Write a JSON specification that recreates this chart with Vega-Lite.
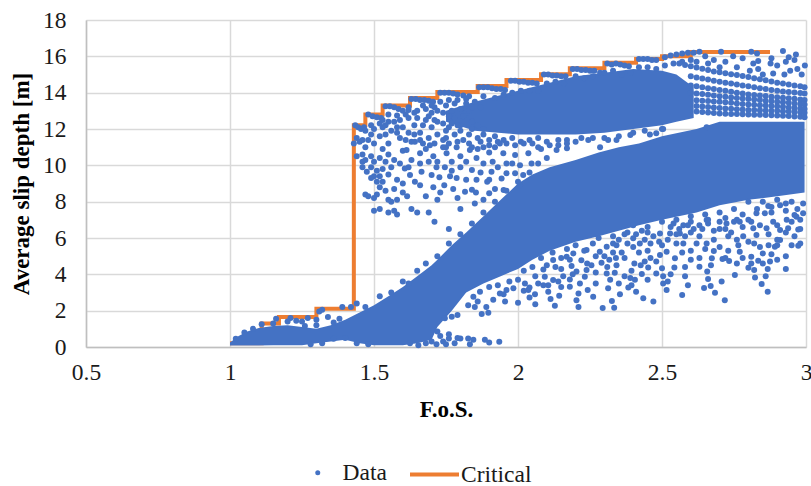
{"$schema":"https://vega.github.io/schema/vega-lite/v6.json","width":720,"height":327,"autosize":"none","padding":{"left":86,"top":20,"right":5,"bottom":139},"background":"white",
"config":{"font":"Liberation Serif","view":{"stroke":null},"axis":{"grid":true,"gridColor":"#D9D9D9","gridWidth":1.5,"domainColor":"#BFBFBF","domainWidth":1.5,"ticks":false,"labelFontSize":23.5,"labelColor":"#1a1a1a","titleFontSize":23,"titleFontWeight":"bold","titleColor":"black","labelOverlap":false,"labelFlush":false},"axisX":{"labelPadding":13,"titlePadding":15},"axisY":{"labelPadding":20,"titlePadding":9}},
"datasets":{
"crit":[{"f":1.0,"d":0.2},{"f":1.11,"d":1.3},{"f":1.17,"d":1.65},{"f":1.3,"d":2.1},{"f":1.43,"d":12.2},{"f":1.47,"d":12.8},{"f":1.53,"d":13.3},{"f":1.625,"d":13.7},{"f":1.72,"d":14.03},{"f":1.86,"d":14.37},{"f":1.96,"d":14.7},{"f":2.08,"d":15.02},{"f":2.18,"d":15.35},{"f":2.3,"d":15.65},{"f":2.41,"d":15.85},{"f":2.5,"d":16},{"f":2.6,"d":16.24},{"f":2.875,"d":16.24}],
"mass":[{"b":"L","f":1.0,"l":0.08,"h":0.25},{"b":"L","f":1.03,"l":0.08,"h":0.6},{"b":"L","f":1.06,"l":0.08,"h":0.85},{"b":"L","f":1.1,"l":0.08,"h":1.05},{"b":"L","f":1.15,"l":0.1,"h":1.15},{"b":"L","f":1.2,"l":0.1,"h":1.2},{"b":"L","f":1.25,"l":0.1,"h":1.1},{"b":"L","f":1.3,"l":0.2,"h":1.0},{"b":"L","f":1.35,"l":0.3,"h":1.2},{"b":"L","f":1.4,"l":0.4,"h":1.5},{"b":"L","f":1.45,"l":0.2,"h":1.9},{"b":"L","f":1.5,"l":0.1,"h":2.3},{"b":"L","f":1.55,"l":0.1,"h":2.8},{"b":"L","f":1.6,"l":0.1,"h":3.3},{"b":"L","f":1.65,"l":0.2,"h":3.9},{"b":"L","f":1.7,"l":0.4,"h":4.5},{"b":"L","f":1.72,"l":1.1,"h":4.8},{"b":"L","f":1.77,"l":2,"h":5.6},{"b":"L","f":1.82,"l":3,"h":6.3},{"b":"L","f":1.88,"l":3.5,"h":7.2},{"b":"L","f":1.94,"l":3.9,"h":8.1},{"b":"L","f":2.0,"l":4.3,"h":9},{"b":"L","f":2.05,"l":4.8,"h":9.5},{"b":"L","f":2.11,"l":5.3,"h":9.9},{"b":"L","f":2.2,"l":5.8,"h":10.3},{"b":"L","f":2.28,"l":6.1,"h":10.7},{"b":"L","f":2.35,"l":6.4,"h":11},{"b":"L","f":2.42,"l":6.7,"h":11.2},{"b":"L","f":2.5,"l":7,"h":11.6},{"b":"L","f":2.62,"l":7.4,"h":12},{"b":"L","f":2.7,"l":7.8,"h":12.4},{"b":"L","f":2.8,"l":8.1,"h":12.4},{"b":"L","f":2.9,"l":8.3,"h":12.4},{"b":"L","f":2.995,"l":8.5,"h":12.4},
{"b":"U","f":1.75,"l":12.4,"h":13},{"b":"U","f":1.85,"l":11.9,"h":13.5},{"b":"U","f":2.0,"l":11.7,"h":14.1},{"b":"U","f":2.1,"l":11.7,"h":14.5},{"b":"U","f":2.2,"l":11.7,"h":14.9},{"b":"U","f":2.3,"l":11.8,"h":15.1},{"b":"U","f":2.4,"l":12,"h":15.3},{"b":"U","f":2.5,"l":12.2,"h":15.2},{"b":"U","f":2.55,"l":12.4,"h":15},{"b":"U","f":2.61,"l":12.6,"h":14.3}],
"pts":[{"f":1.435,"d":12.2},{"f":1.445,"d":12.1},{"f":1.455,"d":12},{"f":1.465,"d":12.1},{"f":1.48,"d":12.8},{"f":1.495,"d":12.7},{"f":1.51,"d":12.65},{"f":1.525,"d":12.6},{"f":1.54,"d":13.25},{"f":1.555,"d":13.25},{"f":1.57,"d":13.2},{"f":1.585,"d":13.1},{"f":1.6,"d":13},{"f":1.63,"d":13.65},{"f":1.645,"d":13.65},{"f":1.66,"d":13.6},{"f":1.675,"d":13.6},{"f":1.69,"d":13.55},{"f":1.705,"d":13.5},{"f":1.73,"d":14},{"f":1.745,"d":14},{"f":1.76,"d":14},{"f":1.775,"d":13.95},{"f":1.79,"d":13.9},{"f":1.81,"d":13.85},{"f":1.83,"d":13.8},{"f":1.865,"d":14.3},{"f":1.88,"d":14.3},{"f":1.895,"d":14.3},{"f":1.91,"d":14.25},{"f":1.925,"d":14.2},{"f":1.94,"d":14.2},{"f":1.955,"d":14.15},{"f":1.975,"d":14.65},{"f":1.99,"d":14.65},{"f":2.005,"d":14.6},{"f":2.02,"d":14.6},{"f":2.035,"d":14.55},{"f":2.05,"d":14.55},{"f":2.065,"d":14.5},{"f":2.09,"d":15},{"f":2.105,"d":15},{"f":2.12,"d":14.95},{"f":2.135,"d":14.95},{"f":2.15,"d":14.9},{"f":2.165,"d":14.9},{"f":2.19,"d":15.3},{"f":2.205,"d":15.3},{"f":2.22,"d":15.25},{"f":2.235,"d":15.25},{"f":2.25,"d":15.2},{"f":2.265,"d":15.2},{"f":2.285,"d":15.1},{"f":2.31,"d":15.6},{"f":2.325,"d":15.55},{"f":2.34,"d":15.6},{"f":2.355,"d":15.55},{"f":2.37,"d":15.5},{"f":2.385,"d":15.45},{"f":2.42,"d":15.85},{"f":2.435,"d":15.85},{"f":2.45,"d":15.85},{"f":2.465,"d":15.8},{"f":2.48,"d":15.8},{"f":2.51,"d":15.95},{"f":2.53,"d":16.05},{"f":2.55,"d":16.1},{"f":2.57,"d":16.15},{"f":2.59,"d":16.2},{"f":2.61,"d":16.2},
{"f":2.92,"d":16.3},{"f":2.965,"d":16.1},{"f":2.94,"d":15.95},{"f":2.96,"d":15.8},{"f":2.93,"d":15.7},{"f":2.996,"d":15.5},{"f":2.945,"d":15.2},{"f":2.97,"d":15.3},{"f":2.985,"d":15},{"f":2.925,"d":15},{"f":2.9,"d":15.5},{"f":2.88,"d":15.9},{"f":2.877,"d":15.6},{"f":2.83,"d":16.15},{"f":2.81,"d":16.25},{"f":2.834,"d":15.75},{"f":2.817,"d":15.6},{"f":2.834,"d":15.3},{"f":2.805,"d":15.2},{"f":2.85,"d":15},{"f":2.886,"d":15.05},{"f":2.705,"d":16.25},{"f":2.63,"d":16.25},{"f":2.65,"d":16},{"f":2.68,"d":15.8},{"f":2.72,"d":15.7},{"f":2.747,"d":16},{"f":2.78,"d":15.9},{"f":2.76,"d":15.4},{"f":2.7,"d":15.4},{"f":2.66,"d":15.6},{"f":2.62,"d":15.7},{"f":2.6,"d":15.8},{"f":2.57,"d":15.7},{"f":2.54,"d":15.6},{"f":2.51,"d":15.5},{"f":2.48,"d":15.3},{"f":2.45,"d":15.4},{"f":2.42,"d":15.4},{"f":2.39,"d":15.1},{"f":2.36,"d":15},{"f":2.33,"d":15.2},{"f":2.3,"d":15.1},{"f":2.26,"d":14.9},{"f":2.23,"d":14.8},{"f":2.2,"d":14.9},{"f":2.16,"d":14.5},{"f":2.13,"d":14.6},{"f":2.1,"d":14.5},{"f":2.07,"d":14.1},{"f":2.04,"d":14.1},{"f":2.01,"d":14.1},{"f":1.98,"d":14},{"f":1.95,"d":13.9},{"f":1.92,"d":13.7},{"f":1.88,"d":13.8},{"f":1.85,"d":13.5},{"f":1.82,"d":13.4},{"f":1.78,"d":13.4},{"f":1.75,"d":13.3},{"f":1.87,"d":13.2},{"f":1.68,"d":13.1},{"f":1.71,"d":13.2},{"f":1.62,"d":13.05},{"f":1.55,"d":12.8},{"f":1.58,"d":12.75},{"f":1.47,"d":11.9},{"f":1.49,"d":12.2},{"f":1.53,"d":12.1},
{"f":2.56,"d":15.6},{"f":2.58,"d":15.52},{"f":2.6,"d":15.45},{"f":2.62,"d":15.38},{"f":2.64,"d":15.32},{"f":2.66,"d":15.25},{"f":2.68,"d":15.17},{"f":2.7,"d":15.12},{"f":2.72,"d":15.07},{"f":2.74,"d":15.02},{"f":2.76,"d":14.97},{"f":2.78,"d":14.92},{"f":2.8,"d":14.86},{"f":2.82,"d":14.8},{"f":2.84,"d":14.74},{"f":2.86,"d":14.68},{"f":2.88,"d":14.62},{"f":2.9,"d":14.55},{"f":2.92,"d":14.5},{"f":2.94,"d":14.45},{"f":2.96,"d":14.4},{"f":2.98,"d":14.35},{"f":2.995,"d":14.3},
{"f":2.6,"d":14.9},{"f":2.62,"d":14.84},{"f":2.64,"d":14.78},{"f":2.66,"d":14.72},{"f":2.68,"d":14.66},{"f":2.7,"d":14.6},{"f":2.72,"d":14.55},{"f":2.74,"d":14.5},{"f":2.76,"d":14.45},{"f":2.78,"d":14.4},{"f":2.8,"d":14.35},{"f":2.82,"d":14.3},{"f":2.84,"d":14.25},{"f":2.86,"d":14.2},{"f":2.88,"d":14.15},{"f":2.9,"d":14.1},{"f":2.92,"d":14.07},{"f":2.94,"d":14.04},{"f":2.96,"d":14.01},{"f":2.98,"d":13.98},{"f":2.995,"d":13.95},
{"f":2.6,"d":14.4},{"f":2.62,"d":14.35},{"f":2.64,"d":14.3},{"f":2.66,"d":14.25},{"f":2.68,"d":14.2},{"f":2.7,"d":14.15},{"f":2.72,"d":14.1},{"f":2.74,"d":14.05},{"f":2.76,"d":14},{"f":2.78,"d":13.95},{"f":2.8,"d":13.9},{"f":2.82,"d":13.87},{"f":2.84,"d":13.84},{"f":2.86,"d":13.81},{"f":2.88,"d":13.78},{"f":2.9,"d":13.75},{"f":2.92,"d":13.72},{"f":2.94,"d":13.69},{"f":2.96,"d":13.66},{"f":2.98,"d":13.63},{"f":2.995,"d":13.6},
{"f":2.6,"d":14},{"f":2.62,"d":13.96},{"f":2.64,"d":13.92},{"f":2.66,"d":13.88},{"f":2.68,"d":13.84},{"f":2.7,"d":13.8},{"f":2.72,"d":13.77},{"f":2.74,"d":13.74},{"f":2.76,"d":13.71},{"f":2.78,"d":13.68},{"f":2.8,"d":13.65},{"f":2.82,"d":13.62},{"f":2.84,"d":13.59},{"f":2.86,"d":13.56},{"f":2.88,"d":13.53},{"f":2.9,"d":13.5},{"f":2.92,"d":13.47},{"f":2.94,"d":13.44},{"f":2.96,"d":13.41},{"f":2.98,"d":13.38},{"f":2.995,"d":13.35},
{"f":2.62,"d":13.58},{"f":2.64,"d":13.56},{"f":2.66,"d":13.54},{"f":2.68,"d":13.52},{"f":2.7,"d":13.5},{"f":2.72,"d":13.47},{"f":2.74,"d":13.44},{"f":2.76,"d":13.41},{"f":2.78,"d":13.38},{"f":2.8,"d":13.35},{"f":2.82,"d":13.33},{"f":2.84,"d":13.31},{"f":2.86,"d":13.29},{"f":2.88,"d":13.27},{"f":2.9,"d":13.25},{"f":2.92,"d":13.22},{"f":2.94,"d":13.19},{"f":2.96,"d":13.16},{"f":2.98,"d":13.13},{"f":2.995,"d":13.1},
{"f":2.62,"d":13.27},{"f":2.64,"d":13.24},{"f":2.66,"d":13.21},{"f":2.68,"d":13.18},{"f":2.7,"d":13.15},{"f":2.72,"d":13.13},{"f":2.74,"d":13.11},{"f":2.76,"d":13.09},{"f":2.78,"d":13.07},{"f":2.8,"d":13.05},{"f":2.82,"d":13.04},{"f":2.84,"d":13.03},{"f":2.86,"d":13.02},{"f":2.88,"d":13.01},{"f":2.9,"d":13},{"f":2.92,"d":12.98},{"f":2.94,"d":12.96},{"f":2.96,"d":12.94},{"f":2.98,"d":12.92},{"f":2.995,"d":12.9},
{"f":2.62,"d":12.97},{"f":2.64,"d":12.94},{"f":2.66,"d":12.91},{"f":2.68,"d":12.88},{"f":2.7,"d":12.85},{"f":2.72,"d":12.84},{"f":2.74,"d":12.83},{"f":2.76,"d":12.82},{"f":2.78,"d":12.81},{"f":2.8,"d":12.8},{"f":2.82,"d":12.79},{"f":2.84,"d":12.78},{"f":2.86,"d":12.77},{"f":2.88,"d":12.76},{"f":2.9,"d":12.75},{"f":2.92,"d":12.73},{"f":2.94,"d":12.71},{"f":2.96,"d":12.69},{"f":2.98,"d":12.67},{"f":2.995,"d":12.65},
{"f":1.44,"d":11.5},{"f":1.43,"d":11.2},{"f":1.45,"d":11.3},{"f":1.46,"d":11.4},{"f":1.47,"d":11},{"f":1.48,"d":11.4},{"f":1.44,"d":10.5},{"f":1.46,"d":10.6},{"f":1.47,"d":10.3},{"f":1.49,"d":10.5},{"f":1.5,"d":11.2},{"f":1.5,"d":10.2},{"f":1.49,"d":9.9},{"f":1.51,"d":9.7},{"f":1.5,"d":9.4},{"f":1.475,"d":9.65},{"f":1.49,"d":9.3},{"f":1.51,"d":9.1},{"f":1.52,"d":9.4},{"f":1.53,"d":9.1},{"f":1.47,"d":8.4},{"f":1.48,"d":8.3},{"f":1.5,"d":8.2},{"f":1.51,"d":8.4},{"f":1.54,"d":8.6},{"f":1.55,"d":8.1},{"f":1.56,"d":8},{"f":1.58,"d":8.1},{"f":1.55,"d":7.4},{"f":1.57,"d":7.5},{"f":1.58,"d":7.3},{"f":1.52,"d":11.6},{"f":1.54,"d":11.7},{"f":1.56,"d":11.9},{"f":1.59,"d":11.5},{"f":1.55,"d":11.2},{"f":1.53,"d":10.9},{"f":1.52,"d":10.4},{"f":1.55,"d":10.6},{"f":1.57,"d":10.3},{"f":1.56,"d":9.9},{"f":1.55,"d":9.5},{"f":1.58,"d":9.2},{"f":1.6,"d":9},{"f":1.59,"d":10.1},{"f":1.6,"d":10.8},{"f":1.61,"d":11.4},{"f":1.62,"d":11.8},{"f":1.57,"d":12.4},{"f":1.59,"d":12.5},{"f":1.6,"d":12.1},{"f":1.5,"d":12},{"f":1.52,"d":12.3},{"f":1.55,"d":12.4},{"f":1.62,"d":12.6},{"f":1.64,"d":12.2},{"f":1.66,"d":11.8},{"f":1.68,"d":12.5},{"f":1.7,"d":12.9},{"f":1.72,"d":12.4},{"f":1.74,"d":12.9},{"f":1.76,"d":12.1},{"f":1.78,"d":12.6},{"f":1.8,"d":12.2},{"f":1.82,"d":12.9},{"f":1.84,"d":12.4},{"f":1.65,"d":13},{"f":1.7,"d":12.1},{"f":1.72,"d":11.7},{"f":1.75,"d":11.5},{"f":1.78,"d":11.7},{"f":1.81,"d":11.4},{"f":1.83,"d":11.7},{"f":1.86,"d":11.5},{"f":1.88,"d":11.7},{"f":1.9,"d":11.4},{"f":1.92,"d":11.6},{"f":1.95,"d":11.4},{"f":1.98,"d":11.5},{"f":2.01,"d":11.3},{"f":2.04,"d":11.4},{"f":2.07,"d":11.5},{"f":2.1,"d":11.3},{"f":2.14,"d":11.4},{"f":2.17,"d":11.4},{"f":1.46,"d":9.9},{"f":1.46,"d":10.2},{"f":1.53,"d":9.8},{"f":1.54,"d":10.2},{"f":1.52,"d":8.8},{"f":1.57,"d":8.7},{"f":1.6,"d":8.5},{"f":1.62,"d":9.9},{"f":1.63,"d":10.3},{"f":1.64,"d":11.7},{"f":1.67,"d":11.2},{"f":1.68,"d":10.9},{"f":1.69,"d":10.2},{"f":1.72,"d":10.2},{"f":1.75,"d":11},{"f":1.77,"d":10.2},{"f":1.77,"d":9.7},{"f":1.82,"d":10.2},{"f":1.83,"d":11.2},{"f":1.86,"d":10.9},{"f":1.9,"d":10.7},{"f":1.92,"d":11},{"f":1.9,"d":9.2},{"f":1.93,"d":9.9},{"f":1.87,"d":9.6},{"f":1.68,"d":8.3},{"f":1.66,"d":8.9},{"f":1.73,"d":8.5},{"f":1.79,"d":8.2},{"f":1.88,"d":8.1},{"f":1.92,"d":8.7},
{"f":1.62,"d":13.2},{"f":1.65,"d":12.6},{"f":1.67,"d":13.3},{"f":1.7,"d":13.3},{"f":1.73,"d":13.5},{"f":1.76,"d":13.6},{"f":1.79,"d":13.6},{"f":1.82,"d":13.65},{"f":1.64,"d":12.9},{"f":1.67,"d":12.2},{"f":1.69,"d":12.7},{"f":1.71,"d":12.5},{"f":1.74,"d":12.3},{"f":1.76,"d":12.7},{"f":1.79,"d":12.2},{"f":1.81,"d":12.7},{"f":1.83,"d":13},{"f":1.75,"d":11.9},{"f":1.77,"d":12.3},{"f":1.8,"d":11.9},{"f":1.84,"d":12},{"f":1.86,"d":12.2},{"f":1.88,"d":12},{"f":1.72,"d":13},{"f":1.77,"d":13},{"f":1.8,"d":13.1},{"f":1.84,"d":13.2},{"f":1.58,"d":12.1},{"f":1.61,"d":12.8},{"f":1.53,"d":12.5},{"f":1.49,"d":11.7},{"f":1.54,"d":12.2},{"f":1.58,"d":11.8},{"f":1.63,"d":11.3},{"f":1.66,"d":11.4},{"f":1.69,"d":11.5},{"f":1.71,"d":11.2},{"f":1.74,"d":11},{"f":1.76,"d":11.2},{"f":1.79,"d":11.3},{"f":1.84,"d":11},{"f":1.87,"d":11.3},{"f":1.9,"d":11.1},{"f":1.93,"d":11.3},{"f":1.96,"d":11.2},{"f":1.99,"d":11.1},{"f":2.02,"d":11.2},{"f":2.05,"d":11.2},{"f":2.08,"d":10.9},{"f":2.11,"d":11.1},{"f":2.14,"d":11.1},{"f":2.17,"d":11.2},{"f":2.22,"d":11.5},{"f":2.26,"d":11.5},{"f":2.3,"d":11.5},{"f":2.35,"d":11.6},{"f":2.4,"d":11.8},{"f":2.44,"d":11.9},{"f":2.5,"d":12},
{"f":1.625,"d":9.47},{"f":1.642,"d":9.1},{"f":1.615,"d":8.3},{"f":1.706,"d":8.8},{"f":1.744,"d":8.9},{"f":1.775,"d":8.7},{"f":1.816,"d":8.55},{"f":1.84,"d":8.65},{"f":1.854,"d":8.5},{"f":1.9,"d":8.46},{"f":1.893,"d":9.1},{"f":1.856,"d":9.2},{"f":1.82,"d":9.2},{"f":1.787,"d":9.3},{"f":1.764,"d":9.4},{"f":1.727,"d":9.35},{"f":1.7,"d":9.47},{"f":1.665,"d":9.65},{"f":1.607,"d":9.83},{"f":1.66,"d":10.1},{"f":1.717,"d":9.9},{"f":1.746,"d":9.9},{"f":1.8,"d":9.9},{"f":1.84,"d":9.75},{"f":1.908,"d":9.65},{"f":1.88,"d":10.1},{"f":1.912,"d":10.2},{"f":1.856,"d":10.4},{"f":1.8,"d":10.5},{"f":1.752,"d":10.66},{"f":1.706,"d":10.5},{"f":1.66,"d":10.66},{"f":1.613,"d":10.85},{"f":1.642,"d":11.3},{"f":1.694,"d":11.1},{"f":1.74,"d":11.4},{"f":1.787,"d":11},{"f":1.833,"d":10.85},{"f":1.88,"d":11},{"f":1.937,"d":11.2},{"f":1.949,"d":10.66},{"f":1.96,"d":10.1},{"f":1.99,"d":10.57},{"f":1.98,"d":10.1},{"f":2.007,"d":10},{"f":1.99,"d":9.56},{"f":2.018,"d":9.47},{"f":1.96,"d":9.56},{"f":1.943,"d":9.28},{"f":1.95,"d":8.64},{"f":2.007,"d":8.9},{"f":2.047,"d":10.1},{"f":2.07,"d":10.1},{"f":2.1,"d":10.4},{"f":2.134,"d":10.85},{"f":2.17,"d":10.94},{"f":2.036,"d":10.66},{"f":2.07,"d":11},{"f":2.2,"d":11.3},{"f":2.244,"d":11.4},{"f":2.285,"d":11},{"f":2.313,"d":11.4},{"f":2.342,"d":11.4},{"f":2.39,"d":11.67},{"f":2.458,"d":11.7},{"f":2.48,"d":11.76},{"f":2.504,"d":12},{"f":2.655,"d":12.1},{"f":1.76,"d":6.5},{"f":1.69,"d":7.4},{"f":1.71,"d":6.9},{"f":1.65,"d":7.4},{"f":1.63,"d":7.6},{"f":1.52,"d":7.6},{"f":1.5,"d":7.5},{"f":1.85,"d":7.9},{"f":1.8,"d":7.6},{"f":1.72,"d":8.1},
{"f":1.935,"d":0.29},{"f":1.9,"d":0.25},{"f":1.885,"d":0.4},{"f":1.845,"d":0.4},{"f":1.827,"d":0.47},{"f":1.833,"d":0.15},{"f":1.78,"d":0.2},{"f":1.8,"d":0.47},{"f":1.76,"d":0.47},{"f":1.74,"d":0.3},{"f":1.717,"d":0.15},{"f":1.68,"d":0.2},{"f":1.73,"d":0.6},{"f":1.76,"d":0.7},{"f":1.72,"d":0.85},{"f":1.7,"d":0.3},{"f":1.75,"d":0.15},{"f":1.79,"d":0.5},{"f":1.654,"d":0.1},{"f":1.625,"d":0.2},{"f":1.79,"d":1.76},{"f":1.77,"d":1.67},{"f":1.746,"d":1.58},{"f":1.897,"d":1.89},{"f":1.874,"d":1.81},{"f":1.89,"d":2.2},{"f":1.85,"d":2.2},{"f":1.827,"d":2.3},{"f":1.914,"d":2.6},{"f":1.955,"d":2.5},{"f":2,"d":2.44},{"f":2.06,"d":2.35},{"f":2.128,"d":2.27},{"f":2.21,"d":2.2},{"f":2.294,"d":2.15},{"f":2.334,"d":2.16},{"f":2.326,"d":2.53},{"f":2.203,"d":2.58},{"f":2.113,"d":2.64},{"f":2.143,"d":2.82},{"f":2.059,"d":2.9},{"f":2.04,"d":2.73},{"f":2.261,"d":2.77},{"f":2.354,"d":2.9},{"f":2.435,"d":2.68},{"f":2.47,"d":2.5},{"f":2.57,"d":2.86},{"f":2.718,"d":2.58},{"f":2.684,"d":2.99},{"f":2.646,"d":3.25},{"f":2.669,"d":3.36},{"f":2.707,"d":3.6},{"f":2.66,"d":3.74},{"f":2.657,"d":4.15},{"f":2.63,"d":4.42},{"f":2.67,"d":4.5},{"f":2.673,"d":4.88},{"f":2.68,"d":5.28},{"f":2.71,"d":4.84},{"f":2.733,"d":4.73},{"f":2.753,"d":3.96},{"f":2.8,"d":4.36},{"f":2.82,"d":4.24},{"f":2.823,"d":3.83},{"f":2.846,"d":3.47},{"f":2.867,"d":3.04},{"f":2.86,"d":3.9},{"f":2.867,"d":4.29},{"f":2.93,"d":4.29},{"f":2.875,"d":4.7},{"f":2.834,"d":4.75},{"f":2.81,"d":4.97},{"f":2.81,"d":4.6},{"f":2.85,"d":5.15},{"f":2.88,"d":5.1},{"f":2.973,"d":5.58},{"f":2.892,"d":5.52},{"f":2.82,"d":5.7},{"f":2.765,"d":5.6},{"f":2.77,"d":5.25},{"f":2.782,"d":6.1},{"f":2.73,"d":6.1},{"f":2.655,"d":5.7},{"f":2.6,"d":5.3},{"f":2.57,"d":5.2},{"f":2.545,"d":4.88},{"f":2.543,"d":4.38},{"f":2.53,"d":4},{"f":2.516,"d":3.14},{"f":2.504,"d":3.5},{"f":2.52,"d":3.6},{"f":2.504,"d":3.9},{"f":2.48,"d":4.05},{"f":2.5,"d":4.33},{"f":2.452,"d":4.38},{"f":2.43,"d":4.02},{"f":2.426,"d":4.5},{"f":2.404,"d":4.6},{"f":2.394,"d":4.2},{"f":2.39,"d":3.8},{"f":2.406,"d":3.7},{"f":2.394,"d":3.4},{"f":2.383,"d":3.28},{"f":2.41,"d":3.04},{"f":2.313,"d":3.23},{"f":2.32,"d":3.7},{"f":2.308,"d":4.05},{"f":2.31,"d":4.4},{"f":2.336,"d":4.09},{"f":2.342,"d":4.5},{"f":2.317,"d":4.8},{"f":2.29,"d":4.64},{"f":2.255,"d":4.5},{"f":2.238,"d":4.24},{"f":2.232,"d":3.87},{"f":2.215,"d":3.5},{"f":2.242,"d":3.14},{"f":2.21,"d":2.95},{"f":2.18,"d":3.32},{"f":2.18,"d":3.72},{"f":2.157,"d":3.9},{"f":2.203,"d":4.15},{"f":2.186,"d":4.46},{"f":2.22,"d":4.78},{"f":2.122,"d":3.69},{"f":2.105,"d":3.4},{"f":2.088,"d":3.4},{"f":2.105,"d":3.04},{"f":2.093,"d":3.87},{"f":2.088,"d":4.27},{"f":2.04,"d":3.28},{"f":2.024,"d":3.5},{"f":2.036,"d":3.14},{"f":1.984,"d":3.23},{"f":1.96,"d":3.14},{"f":1.937,"d":2.95},{"f":1.868,"d":3.04},{"f":1.845,"d":2.77},
{"f":2.48,"d":4.7},{"f":2.493,"d":5.06},{"f":2.55,"d":5.7},{"f":2.516,"d":5.25},{"f":2.574,"d":5.7},{"f":2.493,"d":6.25},{"f":2.528,"d":6.25},{"f":2.562,"d":6.25},{"f":2.54,"d":6.8},{"f":2.574,"d":6.7},{"f":2.4,"d":5.98},{"f":2.423,"d":5.7},{"f":2.342,"d":5.6},{"f":2.308,"d":5.52},{"f":2.284,"d":5.25},{"f":2.238,"d":5.34},{"f":2.192,"d":5.15},{"f":2.169,"d":4.97},{"f":2.122,"d":4.79},{"f":2.655,"d":6.99},{"f":2.7,"d":6.9},{"f":2.724,"d":6.8},{"f":2.76,"d":7},{"f":2.8,"d":7},{"f":2.817,"d":6.53},{"f":2.828,"d":6.16},{"f":2.863,"d":6.53},{"f":2.91,"d":6.44},{"f":2.938,"d":6.53},{"f":2.973,"d":6.47},{"f":2.99,"d":7.36},{"f":2.96,"d":7.26},{"f":2.933,"d":7},{"f":2.886,"d":6.9},{"f":2.857,"d":7.36},{"f":2.828,"d":7.36},{"f":2.869,"d":7.76},{"f":2.91,"d":7.8},{"f":2.967,"d":7.17},{"f":2.91,"d":5.89},{"f":2.9,"d":5.6},{"f":2.28,"d":6},{"f":2.33,"d":6.1},{"f":2.38,"d":6.3},{"f":2.43,"d":6.4},{"f":2.47,"d":6.1},{"f":2.35,"d":5.9},{"f":2.4,"d":5.5},{"f":2.45,"d":5.3},{"f":2.5,"d":5.6},{"f":2.52,"d":5.9},{"f":2.6,"d":6.3},{"f":2.64,"d":6.5},{"f":2.68,"d":6.4},{"f":2.72,"d":6.5},{"f":2.78,"d":6.6},{"f":2.6,"d":6.9},{"f":2.63,"d":6.1},{"f":2.68,"d":5.9},{"f":2.75,"d":6.9},{"f":2.88,"d":7.4},{"f":2.93,"d":7.5},{"f":2.98,"d":6.5},{"f":2.99,"d":7.9},{"f":2.95,"d":8},{"f":2.9,"d":8.1},{"f":2.85,"d":8},{"f":2.8,"d":8},{"f":2.75,"d":7.6},{"f":2.7,"d":7.4},{"f":2.65,"d":7.3},{"f":2.6,"d":7.2},{"f":2.55,"d":7},{"f":2.5,"d":6.9},{"f":2.45,"d":6.6},{"f":2.4,"d":6.7},
{"f":2.02,"d":4.2},{"f":2.05,"d":4.4},{"f":2.08,"d":4.9},{"f":2.06,"d":3.9},{"f":2.1,"d":4.5},{"f":2.13,"d":4.4},{"f":2.15,"d":4.9},{"f":2.12,"d":5.2},{"f":2.17,"d":5.4},{"f":2.2,"d":5.6},{"f":2.23,"d":5.3},{"f":2.26,"d":5.7},{"f":2.15,"d":4.3},{"f":2.18,"d":4.8},{"f":2.24,"d":4.6},{"f":2.27,"d":5},{"f":2.3,"d":5},{"f":2.33,"d":5.2},{"f":2.36,"d":5.2},{"f":2.38,"d":5.7},{"f":2.42,"d":5.2},{"f":2.44,"d":5.9},{"f":2.46,"d":5.7},{"f":2.49,"d":5.8},{"f":2.33,"d":5.7},{"f":2.37,"d":6.2},{"f":2.41,"d":6.2},{"f":2.45,"d":6.3},{"f":2.53,"d":6.6},{"f":2.56,"d":6.5},{"f":2.59,"d":6.7},{"f":2.61,"d":6.5},{"f":2.66,"d":6.8},{"f":2.7,"d":6.5},{"f":2.74,"d":6.3},{"f":2.77,"d":6.9},{"f":2.81,"d":6.9},{"f":2.84,"d":6.7},{"f":2.87,"d":6.2},{"f":2.9,"d":6.7},{"f":2.93,"d":6.3},{"f":2.95,"d":6.9},{"f":2.98,"d":7},{"f":2.96,"d":6.1},{"f":2.72,"d":7.1},{"f":2.78,"d":7.3},{"f":2.83,"d":7.6},{"f":2.88,"d":7.7},{"f":2.93,"d":7.9},{"f":2.97,"d":7.6},{"f":2.66,"d":7},{"f":2.63,"d":6.7},{"f":2.58,"d":6.1},{"f":2.55,"d":6.2},{"f":2.62,"d":5.7},{"f":2.65,"d":5.4},{"f":2.7,"d":5.5},{"f":2.73,"d":5.3},{"f":2.76,"d":5.9},{"f":2.8,"d":5.8},{"f":2.84,"d":5.5},{"f":2.87,"d":5.6},{"f":2.9,"d":5.9},{"f":2.95,"d":5.6},{"f":2.98,"d":5.7},{"f":2.72,"d":4.9},{"f":2.76,"d":4.6},{"f":2.78,"d":4.9},{"f":2.85,"d":4.6},{"f":2.9,"d":4.8},{"f":2.93,"d":5},{"f":2.6,"d":4.8},{"f":2.63,"d":4.9},{"f":2.58,"d":4.4},{"f":2.46,"d":4.9},{"f":2.44,"d":4.7},{"f":2.37,"d":4.9},{"f":2.34,"d":4.9},{"f":2.27,"d":4.1},{"f":2.19,"d":4},{"f":2.14,"d":3.6},{"f":2.07,"d":3.5},{"f":2,"d":3.7},{"f":1.97,"d":3.6},{"f":1.93,"d":3.4},{"f":1.9,"d":3.3},{"f":1.86,"d":2.5},{"f":1.95,"d":2.9},{"f":2.02,"d":3.1},{"f":2.15,"d":3.3},{"f":2.27,"d":3.5},{"f":2.35,"d":3.5},{"f":2.37,"d":3.9},{"f":2.45,"d":3.7},{"f":2.58,"d":3.9},{"f":2.59,"d":3.4},
{"f":1.02,"d":0.45},{"f":1.05,"d":0.8},{"f":1.08,"d":1},{"f":1.11,"d":1.25},{"f":1.15,"d":1.3},{"f":1.16,"d":1.55},{"f":1.21,"d":1.6},{"f":1.23,"d":1.45},{"f":1.25,"d":1.4},{"f":1.26,"d":1.15},{"f":1.3,"d":1.2},{"f":1.31,"d":1.95},{"f":1.32,"d":2.05},{"f":1.34,"d":1.65},{"f":1.39,"d":2.2},{"f":1.42,"d":2.2},{"f":1.44,"d":2.4},{"f":1.47,"d":2.2},{"f":1.52,"d":2.8},{"f":1.56,"d":3},{"f":1.6,"d":3.6},{"f":1.62,"d":3.5},{"f":1.65,"d":4.2},{"f":1.68,"d":4.6},{"f":1.72,"d":5},{"f":1.76,"d":5.7},{"f":1.8,"d":6.2},{"f":1.84,"d":6.8},{"f":1.88,"d":7.4},{"f":1.92,"d":8},{"f":1.96,"d":8.6},{"f":2,"d":9.1},{"f":2.04,"d":9.6},{"f":1.28,"d":0.15},{"f":1.32,"d":0.2},{"f":1.36,"d":0.45},{"f":1.4,"d":0.5},{"f":1.44,"d":0.2},{"f":1.48,"d":0.15},{"f":1.36,"d":1.35},{"f":1.38,"d":1.55},{"f":1.3,"d":1.5},{"f":1.27,"d":1.6},{"f":1.2,"d":1.4}]
},
"layer":[
{"data":{"name":"crit"},"mark":{"type":"line","interpolate":"step-after","strokeWidth":4},"encoding":{"x":{"field":"f","type":"quantitative","scale":{"domain":[0.5,3],"nice":false},"axis":{"values":[0.5,1,1.5,2,2.5,3],"format":".2~f","title":"F.o.S."}},"y":{"field":"d","type":"quantitative","scale":{"domain":[0,18],"nice":false},"axis":{"values":[0,2,4,6,8,10,12,14,16,18],"title":"Average slip depth [m]"}},"color":{"datum":"Critical","scale":{"domain":["Critical"],"range":["#ED7D31"]},"legend":{"title":null,"orient":"none","legendX":322,"legendY":428,"symbolType":"stroke","symbolSize":2401,"symbolStrokeWidth":4,"labelFontSize":23.5,"labelColor":"#1a1a1a","labelOffset":0,"symbolStrokeColor":"#ED7D31"}}}},
{"data":{"name":"mass"},"mark":{"type":"area","color":"#4472C4","interpolate":"linear"},"encoding":{"x":{"field":"f","type":"quantitative","scale":{"domain":[0.5,3],"nice":false},"axis":{"values":[0.5,1,1.5,2,2.5,3],"format":".2~f","title":"F.o.S."}},"y":{"field":"l","type":"quantitative","scale":{"domain":[0,18],"nice":false},"axis":{"values":[0,2,4,6,8,10,12,14,16,18],"title":"Average slip depth [m]"}},"y2":{"field":"h"},"detail":{"field":"b"}}},
{"data":{"name":"pts"},"mark":{"type":"point","filled":true,"opacity":1,"size":36},"encoding":{"x":{"field":"f","type":"quantitative","scale":{"domain":[0.5,3],"nice":false},"axis":{"values":[0.5,1,1.5,2,2.5,3],"format":".2~f","title":"F.o.S."}},"y":{"field":"d","type":"quantitative","scale":{"domain":[0,18],"nice":false},"axis":{"values":[0,2,4,6,8,10,12,14,16,18],"title":"Average slip depth [m]"}},"color":{"datum":"Data","scale":{"domain":["Data"],"range":["#4472C4"]},"legend":{"title":null,"orient":"none","legendX":220,"legendY":441,"symbolType":"circle","symbolSize":25,"labelFontSize":23.5,"labelColor":"#1a1a1a","labelOffset":13}}}}
],
"resolve":{"scale":{"color":"independent"}}}
